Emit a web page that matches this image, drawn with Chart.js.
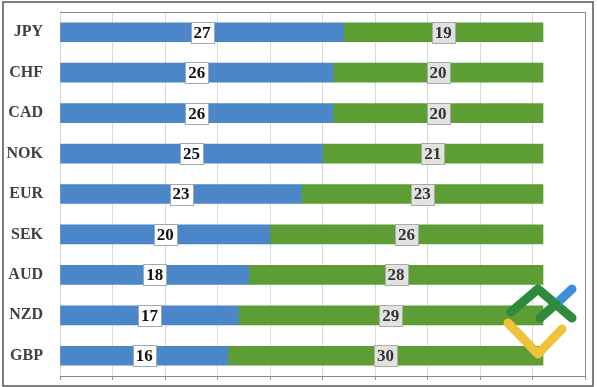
<!DOCTYPE html>
<html>
<head>
<meta charset="utf-8">
<script src="https://cdn.jsdelivr.net/npm/chart.js@4"></script>
<style>
  html, body { margin: 0; padding: 0; background: #fff; }
  #wrap { width: 597px; height: 387px; position: relative; }
</style>
</head>
<body>
<div id="wrap"><canvas id="chart"></canvas></div>
<script>
// currencies, top to bottom
const categories = ['JPY', 'CHF', 'CAD', 'NOK', 'EUR', 'SEK', 'AUD', 'NZD', 'GBP'];
const blueValues = [27, 26, 26, 25, 23, 20, 18, 17, 16];
const greenValues = [19, 20, 20, 21, 23, 26, 28, 29, 30];

const BLUE = '#4a86c8';
const GREEN = '#5c9d34';
const LABEL_FONT = 'bold 17px "Liberation Serif", serif';

// boxed value labels in the middle of each segment
const boxLabels = {
    id: 'boxLabels',
    afterDatasetsDraw(chart) {
        const ctx = chart.ctx;
        ctx.save();
        ctx.font = LABEL_FONT;
        ctx.textAlign = 'center';
        ctx.textBaseline = 'middle';
        chart.data.datasets.forEach((ds, di) => {
            const meta = chart.getDatasetMeta(di);
            meta.data.forEach((bar, i) => {
                const p = bar.getProps(['x', 'y', 'base'], true);
                const cx = (p.x + p.base) / 2;
                const text = String(ds.data[i]);
                const w = ctx.measureText(text).width + 6;
                const h = 21;
                const x0 = Math.round(cx - w / 2) + 0.5;
                const y0 = Math.round(p.y - h / 2) + 0.5;
                ctx.fillStyle = di === 0 ? '#ffffff' : '#e2e2e0';
                ctx.strokeStyle = di === 0 ? '#9aa8b8' : '#a8aba4';
                ctx.lineWidth = 1;
                ctx.fillRect(x0, y0, w, h);
                ctx.strokeRect(x0, y0, w, h);
                ctx.fillStyle = di === 0 ? '#111111' : '#333333';
                ctx.fillText(text, cx, p.y + 1);
            });
        });
        ctx.restore();
    }
};

// frame around the picture and plot area
const frame = {
    id: 'frame',
    beforeDraw(chart) {
        const ctx = chart.ctx;
        ctx.save();
        ctx.fillStyle = '#fff';
        ctx.fillRect(0, 0, chart.width, chart.height);
        ctx.restore();
    },
    afterDraw(chart) {
        const ctx = chart.ctx;
        const a = chart.chartArea;
        ctx.save();
        ctx.strokeStyle = '#8a8a8a';
        ctx.lineWidth = 1;
        ctx.beginPath();
        ctx.moveTo(a.left, a.top + 0.5);
        ctx.lineTo(a.right + 0.5, a.top + 0.5);
        ctx.lineTo(a.right + 0.5, a.bottom + 0.5);
        ctx.stroke();
        ctx.strokeStyle = '#555555';
        ctx.lineWidth = 1.5;
        ctx.strokeRect(3, 2, 590, 384);

        // watermark logo
        ctx.lineCap = 'round';
        ctx.lineJoin = 'round';
        ctx.lineWidth = 9;
        ctx.strokeStyle = '#2f8a3b';
        ctx.beginPath();
        ctx.moveTo(511, 312);
        ctx.lineTo(538, 289);
        ctx.lineTo(572, 318);
        ctx.stroke();
        ctx.strokeStyle = '#f0c23a';
        ctx.beginPath();
        ctx.moveTo(508, 323);
        ctx.lineTo(538, 354);
        ctx.lineTo(562, 329);
        ctx.stroke();
        ctx.strokeStyle = '#3b8fdc';
        ctx.beginPath();
        ctx.moveTo(555, 305);
        ctx.lineTo(572, 289);
        ctx.stroke();
        ctx.strokeStyle = '#2f8a3b';
        ctx.beginPath();
        ctx.moveTo(540, 318);
        ctx.lineTo(556, 304);
        ctx.stroke();
        ctx.restore();
    }
};

new Chart(document.getElementById('chart'), {
    type: 'bar',
    data: {
        labels: categories,
        datasets: [
            { data: blueValues, backgroundColor: BLUE, barThickness: 19 },
            { data: greenValues, backgroundColor: GREEN, barThickness: 19 }
        ]
    },
    options: {
        indexAxis: 'y',
        responsive: true,
        maintainAspectRatio: false,
        animation: false,
        layout: { padding: { top: 12, right: 12, bottom: 0, left: 0 } },
        plugins: {
            legend: { display: false },
            tooltip: { enabled: false }
        },
        scales: {
            x: {
                stacked: true,
                min: 0,
                max: 50,
                ticks: { display: false, stepSize: 5 },
                grid: { color: '#d9d9d9', tickLength: 4, tickColor: '#9a9a9a' },
                border: { color: '#8a8a8a' },
                afterFit: s => { s.height = 11; }
            },
            y: {
                stacked: true,
                grid: { display: false, tickLength: 17 },
                border: { display: false },
                ticks: {
                    color: '#404040',
                    padding: 0,
                    font: { family: '"Liberation Serif", serif', size: 16, weight: 'bold' }
                },
                afterFit: s => { s.width = 60; }
            }
        }
    },
    plugins: [boxLabels, frame]
});
</script>
</body>
</html>
